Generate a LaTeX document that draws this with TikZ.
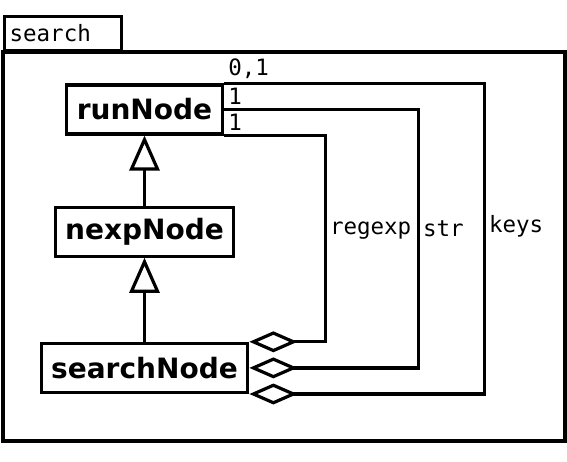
\documentclass[tikz,border=0pt]{standalone}
\usepackage{fontspec}
\setmainfont{DejaVu Sans}
\setmonofont{DejaVu Sans Mono}
\usetikzlibrary{arrows.meta,positioning}

\begin{document}
\begin{tikzpicture}[x=1pt,y=1pt,line width=3.2pt,
  cls/.style={draw,inner xsep=10pt,inner ysep=0pt,minimum height=49pt,font=\fontsize{28}{34}\selectfont\bfseries},
  mult/.style={font=\fontsize{22.5}{26}\selectfont\ttfamily,inner sep=3pt},
  inherit/.style={-{Triangle[open,length=35pt,width=30pt]}},
  aggr/.style={{Diamond[open,length=48pt,width=21pt]}-}]
 \useasboundingbox (0,0) rectangle (567,461);
 \node[mult,draw,anchor=south west,minimum width=117pt,minimum height=34pt,inner xsep=5pt,text width=107pt] (pkgTab) at (3,409) {search};
 \draw (pkgTab.south west) rectangle (565,20);
 \node[cls] (runNode) at (144.5,351.5) {runNode};
 \node[cls] (nexpNode) [below=70pt of runNode] {nexpNode};
 \node[cls] (searchNode) [below=84pt of nexpNode] {searchNode};
 \draw[inherit] (nexpNode.north) -- (nexpNode.north |- runNode.south);
 \draw[inherit] (searchNode.north) -- (searchNode.north |- nexpNode.south);
 \draw[aggr] (searchNode.north east) -- ++(76,0) |- node[pos=0.27,right,mult] {regexp}
  node[pos=1,above right,mult] {1} (runNode.south east);
 \draw[aggr] (searchNode.east) -- ++(169,0) |- node[pos=0.27,right,mult] {str}
  node[pos=1,above right,mult] {1} (runNode.east);
 \draw[aggr] (searchNode.south east) -- ++(235,0) |- node[pos=0.27,right,mult] {keys}
  node[pos=1,above right,mult] {0,1} (runNode.north east);
\end{tikzpicture}
\end{document}
